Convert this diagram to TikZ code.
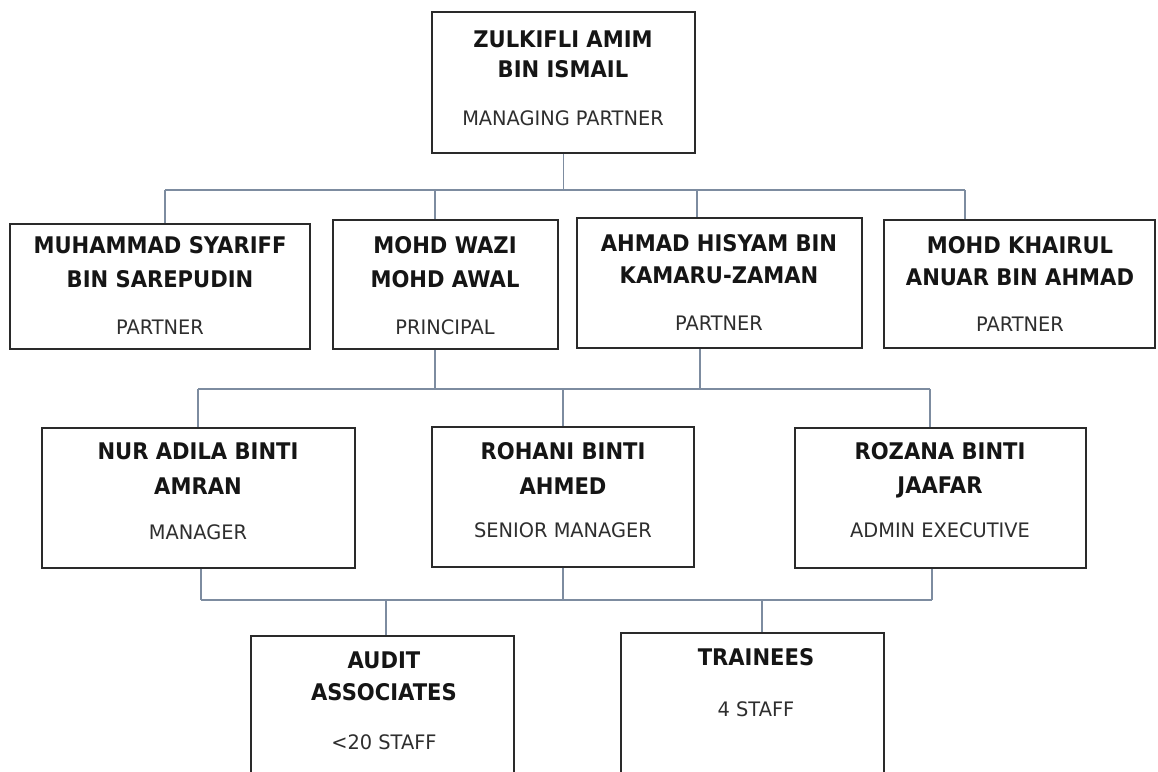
\documentclass[tikz,border=0pt]{standalone}
\usepackage{fontspec}
\setmainfont{DejaVu Sans}
\newfontfamily\namefont[FakeStretch=0.92]{DejaVu Sans}
\newfontfamily\rolefont[FakeStretch=0.97]{DejaVu Sans}
\usetikzlibrary{fit}
\definecolor{boxline}{HTML}{2A2A2A}
\definecolor{connline}{HTML}{7D8CA0}
\definecolor{nametext}{HTML}{151515}
\definecolor{titletext}{HTML}{2E2E2E}
\tikzset{
  orgbox/.style={draw=boxline, line width=1.2pt, inner sep=0pt, fill=white},
  conn/.style={draw=connline, line width=0.9pt},
  nametxt/.style={font=\namefont\fontsize{16.3}{19}\selectfont\bfseries, text=nametext, inner sep=0pt, text height=11.9pt, text depth=0pt},
  roletxt/.style={font=\rolefont\fontsize{14.2}{16}\selectfont, text=titletext, inner sep=0pt, text height=10.4pt, text depth=0pt}
}
\begin{document}
\begin{tikzpicture}[x=0.025cm,y=-0.025cm]
\useasboundingbox (0,0) rectangle (1158,771);
\clip (0,0) rectangle (1158,771);
% boxes
\node[orgbox, fit={(432,12) (695,153)}] (top) {};
\node[orgbox, fit={(10,224) (310,349)}] (a) {};
\node[orgbox, fit={(333,220) (558,349)}] (b) {};
\node[orgbox, fit={(577,218) (862,348)}] (c) {};
\node[orgbox, fit={(884,220) (1155,348)}] (d) {};
\node[orgbox, fit={(42,428) (355,568)}] (e) {};
\node[orgbox, fit={(432,427) (694,567)}] (f) {};
\node[orgbox, fit={(795,428) (1086,568)}] (g) {};
\node[orgbox, fit={(251,636) (514,800)}] (h) {};
\node[orgbox, fit={(621,633) (884,800)}] (i) {};
% connectors
\coordinate (bus1) at (565,190);
\coordinate (bus2) at (563,389);
\coordinate (bus3) at (563,600);
\draw[conn] (top.south) -- (top.south |- bus1);
\draw[conn] (165,0 |- bus1) -- (965,0 |- bus1);
\draw[conn] (165,0 |- bus1) -- (165,0 |- a.north);
\draw[conn] (435,0 |- bus1) -- (435,0 |- b.north);
\draw[conn] (697,0 |- bus1) -- (697,0 |- c.north);
\draw[conn] (965,0 |- bus1) -- (965,0 |- d.north);
\draw[conn] (435,0 |- b.south) -- (435,0 |- bus2);
\draw[conn] (700,0 |- c.south) -- (700,0 |- bus2);
\draw[conn] (198,0 |- bus2) -- (930,0 |- bus2);
\draw[conn] (198,0 |- bus2) -- (198,0 |- e.north);
\draw[conn] (563,0 |- bus2) -- (563,0 |- f.north);
\draw[conn] (930,0 |- bus2) -- (930,0 |- g.north);
\draw[conn] (201,0 |- e.south) -- (201,0 |- bus3);
\draw[conn] (563,0 |- f.south) -- (563,0 |- bus3);
\draw[conn] (932,0 |- g.south) -- (932,0 |- bus3);
\draw[conn] (201,0 |- bus3) -- (932,0 |- bus3);
\draw[conn] (386,0 |- bus3) -- (386,0 |- h.north);
\draw[conn] (762,0 |- bus3) -- (762,0 |- i.north);
% texts
\node[nametxt] (top1) at (563,39) {ZULKIFLI AMIM};
\node[nametxt] (top2) at (563,69) {BIN ISMAIL};
\node[roletxt] (top3) at (563,118) {MANAGING PARTNER};
\node[nametxt] (a1) at (160,245) {MUHAMMAD SYARIFF};
\node[nametxt] (a2) at (160,279) {BIN SAREPUDIN};
\node[roletxt] (a3) at (160,327) {PARTNER};
\node[nametxt] (b1) at (445,245) {MOHD WAZI};
\node[nametxt] (b2) at (445,279) {MOHD AWAL};
\node[roletxt] (b3) at (445,327) {PRINCIPAL};
\node[nametxt] (c1) at (719,243) {AHMAD HISYAM BIN};
\node[nametxt] (c2) at (719,275) {KAMARU-ZAMAN};
\node[roletxt] (c3) at (719,323) {PARTNER};
\node[nametxt] (d1) at (1020,245) {MOHD KHAIRUL};
\node[nametxt] (d2) at (1020,277) {ANUAR BIN AHMAD};
\node[roletxt] (d3) at (1020,324) {PARTNER};
\node[nametxt] (e1) at (198,451) {NUR ADILA BINTI};
\node[nametxt] (e2) at (198,486) {AMRAN};
\node[roletxt] (e3) at (198,532) {MANAGER};
\node[nametxt] (f1) at (563,451) {ROHANI BINTI};
\node[nametxt] (f2) at (563,486) {AHMED};
\node[roletxt] (f3) at (563,530) {SENIOR MANAGER};
\node[nametxt] (g1) at (940,451) {ROZANA BINTI};
\node[nametxt] (g2) at (940,485) {JAAFAR};
\node[roletxt] (g3) at (940,530) {ADMIN EXECUTIVE};
\node[nametxt] (h1) at (384,660) {AUDIT};
\node[nametxt] (h2) at (384,692) {ASSOCIATES};
\node[roletxt] (h3) at (384,742) {<20 STAFF};
\node[nametxt] (i1) at (756,657) {TRAINEES};
\node[roletxt] (i2) at (756,709) {4 STAFF};
\end{tikzpicture}
\end{document}
